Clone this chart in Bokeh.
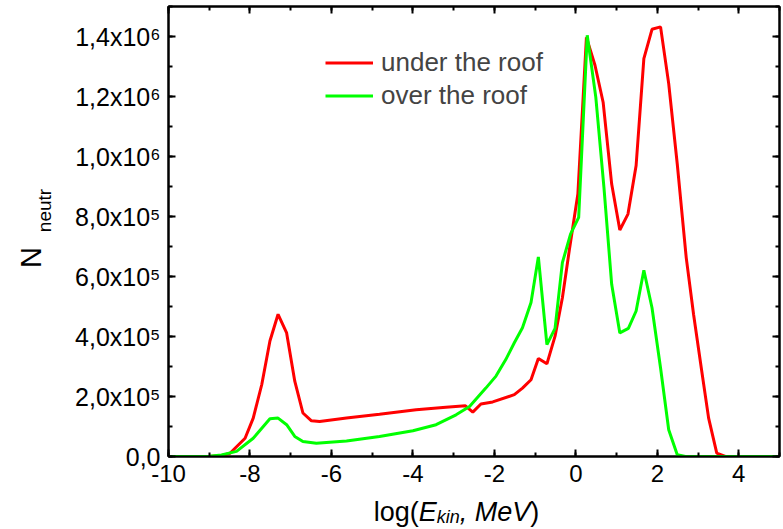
import math
from bokeh.plotting import figure
from bokeh.layouts import column, row
from bokeh.models import (Range1d, LinearAxis, SingleIntervalTicker, Legend, LegendItem,
                          Label, CustomJSTickFormatter)
from bokeh.embed import file_html
from bokeh.resources import INLINE

# ---- data ----
red_x = [-10, -9.5, -9.0, -8.7, -8.49, -8.12, -7.92, -7.71, -7.51, -7.31, -7.10, -6.90,
         -6.70, -6.49, -6.29, -5.63, -4.82, -3.92, -3.19, -2.71, -2.53, -2.33, -2.04,
         -1.51, -1.31, -1.10, -0.92, -0.71, -0.51, -0.33, -0.15, 0.05, 0.26, 0.47, 0.67,
         0.88, 1.08, 1.28, 1.48, 1.67, 1.87, 2.08, 2.28, 2.49, 2.71, 2.89, 3.08, 3.26,
         3.46, 3.67, 5.0]
red_y = [0, 0, 0, 3000, 11000, 61000, 128000, 240000, 385000, 474000, 412000, 251000,
         145000, 119000, 117000, 128000, 141000, 156000, 164000, 169000, 148000, 175000,
         182000, 206000, 228000, 256000, 327000, 309000, 401000, 529000, 697000, 875000,
         1397000, 1304000, 1181000, 908000, 755000, 808000, 970000, 1326000, 1424000,
         1432000, 1243000, 975000, 663000, 474000, 295000, 128000, 11000, 0, 0]

green_x = [-10, -9.5, -9.0, -8.7, -8.33, -7.92, -7.51, -7.31, -7.10, -6.90, -6.70, -6.37,
           -5.63, -4.82, -4.00, -3.43, -2.94, -2.61, -2.21, -1.96, -1.72, -1.51, -1.31,
           -1.10, -0.92, -0.71, -0.51, -0.33, -0.13, 0.07, 0.28, 0.49, 0.69, 0.88, 1.08,
           1.29, 1.48, 1.67, 1.87, 2.08, 2.28, 2.49, 2.69, 5.0]
green_y = [0, 0, 1000, 5000, 17000, 61000, 126000, 128000, 106000, 67000, 50000, 44000,
           52000, 67000, 86000, 106000, 139000, 167000, 228000, 268000, 323000, 379000,
           429000, 513000, 665000, 373000, 427000, 646000, 741000, 797000, 1404000,
           1198000, 897000, 574000, 412000, 427000, 485000, 621000, 496000, 295000,
           89000, 6000, 0, 0]

series_labels = ["under the roof", "over the roof"]
x_tick_values = [-10, -8, -6, -4, -2, 0, 2, 4]
x_tick_labels = ["-10", "-8", "-6", "-4", "-2", "0", "2", "4"]
y_tick_values = [0, 200000, 400000, 600000, 800000, 1000000, 1200000, 1400000]
y_tick_labels = ["0,0", "2,0x10\u2075", "4,0x10\u2075", "6,0x10\u2075", "8,0x10\u2075",
                 "1,0x10\u2076", "1,2x10\u2076", "1,4x10\u2076"]

FONT = "Liberation Sans"
W, H = 783, 529
YLAB_W = 60          # strip holding the y-axis title
XLAB_H = 35          # strip holding the x-axis title
MAIN_W, MAIN_H = W - YLAB_W, H - XLAB_H
FRAME_BOTTOM = 456   # page y of the plot frame's bottom edge

p = figure(width=MAIN_W, height=MAIN_H, output_backend="svg", toolbar_location=None,
           x_range=Range1d(-10, 5), y_range=Range1d(0, 1.5e6),
           x_axis_type=None, y_axis_type=None,
           min_border_left=168 - YLAB_W, min_border_right=4, min_border_top=6,
           min_border_bottom=MAIN_H - FRAME_BOTTOM)
p.outline_line_color = "black"
p.outline_line_width = 2
p.background_fill_color = "white"
p.border_fill_color = "white"

xt = SingleIntervalTicker(interval=2, num_minor_ticks=2)
yt = SingleIntervalTicker(interval=200000, num_minor_ticks=2)


def style(ax, size):
    ax.axis_line_color = "black"
    ax.axis_line_width = 2
    ax.major_tick_in = 7
    ax.major_tick_out = 0
    ax.minor_tick_in = 4
    ax.minor_tick_out = 0
    ax.major_tick_line_width = 2
    ax.minor_tick_line_width = 2
    ax.major_label_text_font = FONT
    ax.major_label_text_font_size = size
    ax.major_label_text_color = "black"


bottom = LinearAxis(ticker=xt, major_label_standoff=8,
                    major_label_overrides=dict(zip(x_tick_values, x_tick_labels)))
style(bottom, "24px")
left = LinearAxis(ticker=yt, major_label_standoff=8,
                  major_label_overrides=dict(zip(y_tick_values, y_tick_labels)))
style(left, "25px")
top = LinearAxis(ticker=xt, formatter=CustomJSTickFormatter(code="return ''"),
                 major_label_standoff=0)
style(top, "1px")
right = LinearAxis(ticker=yt, formatter=CustomJSTickFormatter(code="return ''"),
                   major_label_standoff=0)
style(right, "1px")
p.add_layout(bottom, "below")
p.add_layout(left, "left")
p.add_layout(top, "above")
p.add_layout(right, "right")

r1 = p.line(red_x, red_y, line_color="#ff0000", line_width=3)
r2 = p.line(green_x, green_y, line_color="#00ff00", line_width=3)

legend = Legend(items=[LegendItem(label=series_labels[0], renderers=[r1]),
                       LegendItem(label=series_labels[1], renderers=[r2])],
                location=(157, 344), glyph_width=48, glyph_height=33, label_height=33,
                label_standoff=8, spacing=0, padding=0, margin=0,
                border_line_color=None, background_fill_alpha=0,
                label_text_font=FONT, label_text_font_size="26px")
p.add_layout(legend)


def strip(width, height):
    f = figure(width=width, height=height, output_backend="svg", toolbar_location=None,
               x_range=Range1d(0, 1), y_range=Range1d(0, 1),
               x_axis_type=None, y_axis_type=None, title=None, frame_align=False,
               min_border_left=0, min_border_right=0, min_border_top=0, min_border_bottom=0)
    f.outline_line_color = None
    f.background_fill_alpha = 0
    f.border_fill_alpha = 0
    return f


# y axis title: N with subscript "neutr" (rotated); strip frame == strip canvas
ylab = strip(YLAB_W, MAIN_H)
ylab.add_layout(Label(x=30, y=MAIN_H - 257, x_units="screen", y_units="screen",
                      text="N", angle=math.pi / 2, text_align="center",
                      text_baseline="middle", text_font=FONT, text_font_size="29px",
                      text_color="black"))
ylab.add_layout(Label(x=44, y=MAIN_H - 210, x_units="screen", y_units="screen",
                      text="neutr", angle=math.pi / 2, text_align="center",
                      text_baseline="middle", text_font=FONT, text_font_size="19px",
                      text_color="black"))

# x axis title: log(E_kin, MeV); pieces anchored at the middle of their text boxes
xlab = strip(W, XLAB_H)
main_fs, sub_fs = 27, 18
# (text, font size, style, page-y of the text box middle)
parts = [("log(", main_fs, "normal", 511), ("E", main_fs, "italic", 511),
         ("kin", sub_fs, "italic", 516), (", MeV", main_fs, "italic", 511),
         (")", main_fs, "normal", 511)]
widths = {"log(": 1.667, "E": 0.667, "kin": 1.278, ", MeV": 2.612, ")": 0.333}
total = sum(widths[t] * fs for t, fs, _, _ in parts)
xpos = 456.0 - total / 2
for t, fs, st, mid in parts:
    xlab.add_layout(Label(x=xpos, y=H - mid, x_units="screen", y_units="screen",
                          text=t, text_align="left", text_baseline="middle",
                          text_font=FONT, text_font_size=f"{fs}px", text_font_style=st,
                          text_color="black"))
    xpos += widths[t] * fs

layout = column(row(ylab, p, spacing=0), xlab, spacing=0)
open("out.html", "w").write(file_html(layout, INLINE))
